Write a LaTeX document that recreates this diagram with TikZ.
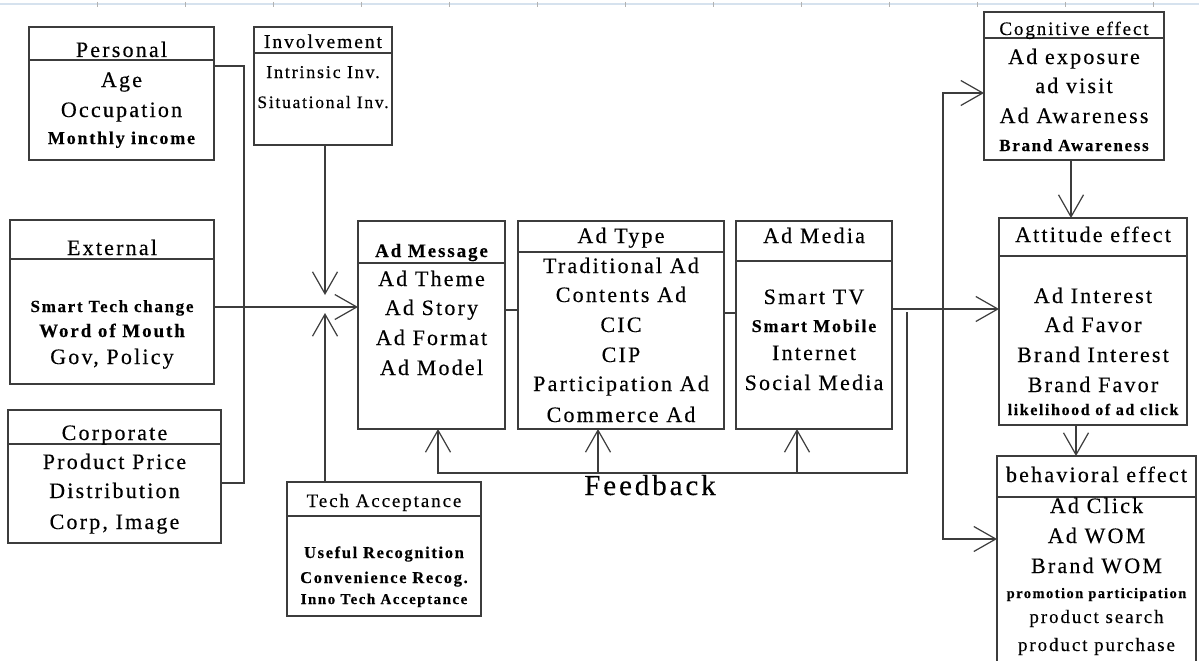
\documentclass[tikz,border=0pt]{standalone}
\usepackage{fontspec}
\setmainfont{Liberation Serif}
\newfontfamily\bt[LetterSpace=10, FakeBold=0.3]{Liberation Serif}
\usetikzlibrary{arrows.meta}
\definecolor{lc}{RGB}{60,60,60}
\definecolor{rul}{RGB}{214,226,238}
\begin{document}
\begin{tikzpicture}[x=1pt,y=-1pt,
  ln/.style={draw=lc, line width=1.2pt},
  box/.style={draw=lc, line width=1.2pt, inner sep=0pt, outer sep=0pt, anchor=north west},
  ar/.style={ln, -{Straight Barb[length=22pt,width=25pt,line width=1.2pt]}},
  t/.style={anchor=base, inner sep=0pt, font=\bt\fontsize{22}{26}\selectfont},
  ts/.style={anchor=base, inner sep=0pt, font=\bt\fontsize{#1}{24}\selectfont},
  tb/.style={anchor=base, inner sep=0pt, font=\bt\bfseries\fontsize{#1}{24}\selectfont}
]
\useasboundingbox (0,0) rectangle (1199,661);
\clip (0,0) rectangle (1199,661);
\fill[white] (0,0) rectangle (1199,661);
% top ruler strip
\draw[draw=rul, line width=2pt] (0,4) -- (1199,4);
\foreach \i in {0,...,13} {\draw[draw=gray!60, line width=0.6pt] ({97+88*\i},2) -- ({97+88*\i},7);}

% boxes
\node[box, minimum width=185pt, minimum height=133pt] (pers) at (29,27) {};
\draw[ln] (29,60) -- (214,60);
\node[box, minimum width=138pt, minimum height=118pt] (inv) at (254,27) {};
\draw[ln] (254,53) -- (392,53);
\node[box, minimum width=204pt, minimum height=164pt] (ext) at (10,220) {};
\draw[ln] (10,259) -- (214,259);
\node[box, minimum width=213pt, minimum height=133pt] (corp) at (8,410) {};
\draw[ln] (8,444) -- (221,444);
\node[box, minimum width=147pt, minimum height=208pt] (msg) at (358,221) {};
\draw[ln] (358,263) -- (505,263);
\node[box, minimum width=206pt, minimum height=208pt] (type) at (518,221) {};
\draw[ln] (518,252) -- (724,252);
\node[box, minimum width=156pt, minimum height=208pt] (media) at (736,221) {};
\draw[ln] (736,261) -- (892,261);
\node[box, minimum width=194pt, minimum height=134pt] (tech) at (287,482) {};
\draw[ln] (287,516) -- (481,516);
\node[box, minimum width=180pt, minimum height=148pt] (cog) at (984,12) {};
\draw[ln] (984,38) -- (1164,38);
\node[box, minimum width=188pt, minimum height=207pt] (att) at (999,218) {};
\draw[ln] (999,256) -- (1187,256);
\node[box, minimum width=199pt, minimum height=240pt] (beh) at (997,456) {};
\draw[ln] (997,497) -- (1196,497);

% texts
\node[t] (p1) at (121.5,57) {Personal};
\node[t] (p2) at (121.5,87) {Age};
\node[t] (p3) at (121.5,117) {Occupation};
\node[tb=18] (p4) at (121.5,144) {Monthly income};

\node[ts=19.5] (i1) at (323,48) {Involvement};
\node[ts=18] (i2) at (323,78) {Intrinsic Inv.};
\node[ts=17.5] (i3) at (323,108) {Situational Inv.};

\node[t] (e1) at (112,255) {External};
\node[tb=17] (e2) at (112,312) {Smart Tech change};
\node[tb=19] (e3) at (112,337) {Word of Mouth};
\node[t] (e4) at (112,364) {Gov, Policy};

\node[t] (c1) at (114.5,440) {Corporate};
\node[t] (c2) at (114.5,469) {Product Price};
\node[t] (c3) at (114.5,498) {Distribution};
\node[t] (c4) at (114.5,529) {Corp, Image};

\node[tb=19] (m1) at (431.5,257) {Ad Message};
\node[t] (m2) at (431.5,286) {Ad Theme};
\node[t] (m3) at (431.5,315) {Ad Story};
\node[t] (m4) at (431.5,345) {Ad Format};
\node[t] (m5) at (431.5,375) {Ad Model};

\node[t] (y1) at (621,243) {Ad Type};
\node[t] (y2) at (621,273) {Traditional Ad};
\node[t] (y3) at (621,302) {Contents Ad};
\node[t] (y4) at (621,332) {CIC};
\node[t] (y5) at (621,362) {CIP};
\node[t] (y6) at (621,391) {Participation Ad};
\node[t] (y7) at (621,422) {Commerce Ad};

\node[t] (d1) at (814,243) {Ad Media};
\node[t] (d2) at (814,304) {Smart TV};
\node[tb=18] (d3) at (814,332) {Smart Mobile};
\node[t] (d4) at (814,360) {Internet};
\node[t] (d5) at (814,390) {Social Media};

\node[ts=19] (k1) at (384,507) {Tech Acceptance};
\node[tb=16.5] (k2) at (384,558) {Useful Recognition};
\node[tb=16.5] (k3) at (384,583) {Convenience Recog.};
\node[tb=15] (k4) at (384,604) {Inno Tech Acceptance};

\node[ts=19] (g1) at (1074,35) {Cognitive effect};
\node[t] (g2) at (1074,64) {Ad exposure};
\node[t] (g3) at (1074,93) {ad visit};
\node[t] (g4) at (1074,123) {Ad Awareness};
\node[tb=17] (g5) at (1074,151) {Brand Awareness};

\node[t] (a1) at (1093,242) {Attitude effect};
\node[t] (a2) at (1093,303) {Ad Interest};
\node[t] (a3) at (1093,332) {Ad Favor};
\node[t] (a4) at (1093,362) {Brand Interest};
\node[t] (a5) at (1093,392) {Brand Favor};
\node[tb=16] (a6) at (1093,415) {likelihood of ad click};

\node[t] (b1) at (1096.5,482) {behavioral effect};
\node[t] (b2) at (1096.5,513) {Ad Click};
\node[t] (b3) at (1096.5,543) {Ad WOM};
\node[t] (b4) at (1096.5,573) {Brand WOM};
\node[tb=14.5] (b5) at (1096.5,598) {promotion participation};
\node[ts=19] (b6) at (1096.5,623) {product search};
\node[ts=19] (b7) at (1096.5,651) {product purchase};

\node[anchor=base, inner sep=0pt, font=\bt\fontsize{29}{32}\selectfont] (fb) at (650,495) {Feedback};

% connectors
\coordinate (pj1) at (244,66);
\coordinate (pj2) at (244,483);
\draw[ln] (pers.east |- pj1) -- (pj1) -- (pj2) -- (corp.east |- pj2);
\coordinate (msgin) at (358,307);
\draw[ar] (ext.east |- msgin) -- (msgin);
\coordinate (invtip) at (325,295);
\draw[ar] (inv.south -| invtip) -- (invtip);
\coordinate (techtip) at (325,313);
\draw[ar] (tech.north -| techtip) -- (techtip);
\coordinate (mt) at (512,310);
\draw[ln] (msg.east |- mt) -- (type.west |- mt);
\coordinate (tm) at (730,313);
\draw[ln] (type.east |- tm) -- (media.west |- tm);
\coordinate (rj) at (943,309);
\draw[ar] (media.east |- rj) -- (att.west |- rj);
\coordinate (rt) at (943,93);
\coordinate (rb) at (943,539);
\draw[ar] (rj) -- (rt) -- (cog.west |- rt);
\draw[ar] (rj) -- (rb) -- (beh.west |- rb);
\coordinate (f0) at (907,312);
\coordinate (f1) at (907,473);
\coordinate (f2) at (438,473);
\coordinate (f3) at (598,473);
\coordinate (f4) at (797,473);
\draw[ar] (f0) -- (f1) -- (f2) -- (msg.south -| f2);
\draw[ar] (f3) -- (type.south -| f3);
\draw[ar] (f4) -- (media.south -| f4);
\coordinate (ca) at (1071,190);
\draw[ar] (cog.south -| ca) -- (att.north -| ca);
\coordinate (ab) at (1076,440);
\draw[ar] (att.south -| ab) -- (beh.north -| ab);
\end{tikzpicture}
\end{document}
